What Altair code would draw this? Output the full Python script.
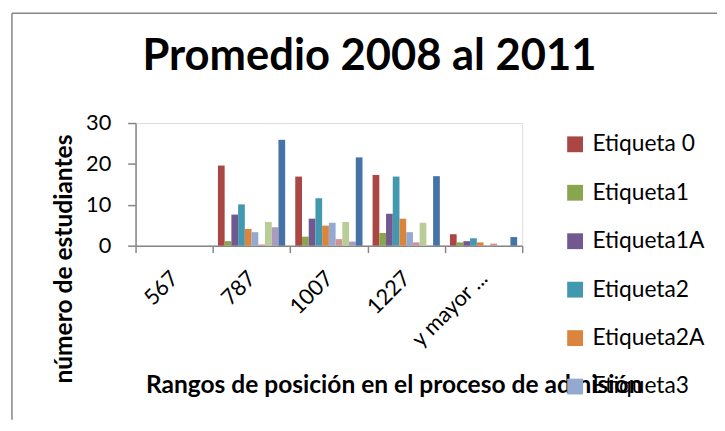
import altair as alt
import pandas as pd

categories = ["567", "787", "1007", "1227", "y mayor ..."]
series = ["Etiqueta 0", "Etiqueta1", "Etiqueta1A", "Etiqueta2", "Etiqueta2A",
          "Etiqueta3", "Etiqueta3A", "Etiqueta4", "Etiqueta4A", "Etiqueta5"]
colors = ["#AA4643", "#89A54E", "#71588F", "#4198AF", "#DB843D",
          "#93A9CF", "#D19392", "#B9CD96", "#A99BBD", "#4572A7"]

e0 = [0, 19.6, 16.9, 17.3, 2.8]
e1 = [0, 1.1, 2.2, 3.1, 0.8]
e1a = [0, 7.6, 6.6, 7.8, 1.1]
e2 = [0, 10.1, 11.6, 16.9, 1.8]
e2a = [0, 4.1, 4.9, 6.6, 0.8]
e3 = [0, 3.3, 5.6, 3.3, 0]
e3a = [0, 0.3, 1.6, 0.8, 0.5]
e4 = [0, 5.8, 5.8, 5.6, 0]
e4a = [0, 4.5, 1.0, 0, 0]
e5 = [0, 25.9, 21.6, 17.0, 2.1]
values = [e0, e1, e1a, e2, e2a, e3, e3a, e4, e4a, e5]

rows = []
for s, vals in zip(series, values):
    for c, v in zip(categories, vals):
        rows.append({"cat": c, "serie": s, "val": v})
df = pd.DataFrame(rows)

FONT = "Lato"
GRAY = "#868686"

bars = alt.Chart(df).mark_bar().encode(
    x=alt.X("cat:N", sort=categories,
            scale=alt.Scale(paddingInner=0, paddingOuter=0),
            axis=alt.Axis(title="Rangos de posición en el proceso de admisión",
                          tickBand="extent", labelAngle=315, labelFontSize=22,
                          labelFont=FONT, labelColor="#000000",
                          labelAlign="right", labelBaseline="alphabetic",
                          labelPadding=27, labelOffset=5,
                          tickSize=7, tickColor=GRAY, domainColor=GRAY,
                          domainWidth=1.5, tickWidth=1.5,
                          titleFont=FONT, titleFontSize=24.8, titleFontWeight="bold",
                          titleColor="#000000", titleX=10, titleY=148,
                          titleAlign="left", titleBaseline="alphabetic")),
    xOffset=alt.XOffset("serie:N", sort=series,
                        scale=alt.Scale(paddingInner=0, paddingOuter=0.75)),
    y=alt.Y("val:Q", scale=alt.Scale(domain=[0, 30], nice=False),
            axis=alt.Axis(values=[0, 10, 20, 30], grid=False, labelFontSize=22,
                          labelFont=FONT, labelColor="#000000", labelPadding=17,
                          tickSize=8, tickColor=GRAY, domainColor=GRAY,
                          domainWidth=1.5, tickWidth=1.5,
                          title="número de estudiantes", titleFont=FONT,
                          titleFontSize=24.8, titleFontWeight="bold",
                          titleColor="#000000", titleX=-65, titleY=263,
                          titleAngle=270, titleAlign="left",
                          titleBaseline="alphabetic")),
    color=alt.Color("serie:N", sort=series,
                    scale=alt.Scale(domain=series, range=colors),
                    legend=alt.Legend(values=series[:6], orient="none",
                                      legendX=433, legendY=10, title=None,
                                      padding=0,
                                      symbolType="square", symbolSize=256,
                                      symbolStrokeWidth=0, labelFont=FONT,
                                      labelFontSize=23, labelColor="#000000",
                                      rowPadding=25, labelOffset=6)),
)

frame = pd.DataFrame({"k": [0]})
left_line = alt.Chart(frame).mark_rule(color=GRAY, strokeWidth=1.5).encode(
    x=alt.value(-125), y=alt.value(-111), y2=alt.value(300))
top_line = alt.Chart(frame).mark_rule(color=GRAY, strokeWidth=1.5).encode(
    x=alt.value(-125), x2=alt.value(588), y=alt.value(-111))

chart = alt.layer(bars, left_line, top_line).properties(
    width=391, height=124,
    title=alt.TitleParams("Promedio 2008 al 2011", font=FONT, fontSize=44,
                          fontWeight="bold", color="#000000", anchor="middle",
                          baseline="alphabetic", dx=41, dy=102, offset=0,
                          frame="group"),
    autosize=alt.AutoSizeParams(type="none"),
    padding={"left": 129, "top": 114, "right": 197, "bottom": 177},
).configure_view(stroke=None).configure(background="white")

chart.save("out.html", embed_options={"renderer": "svg", "actions": False})
